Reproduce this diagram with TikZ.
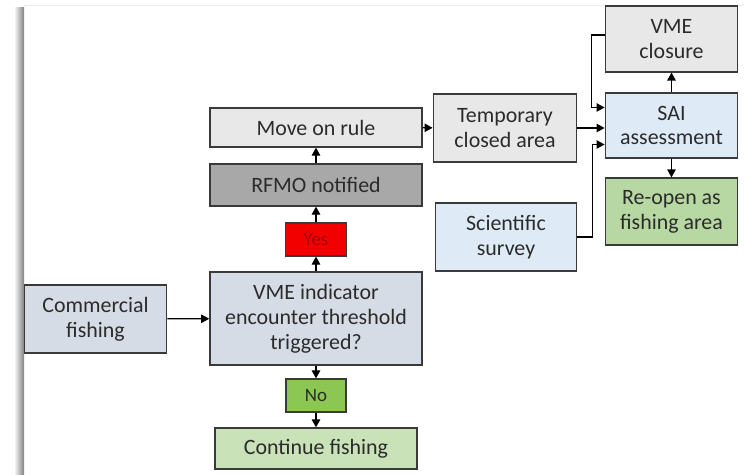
\documentclass[tikz,border=0pt]{standalone}
\usepackage{fontspec}
\setmainfont{Carlito}
\usetikzlibrary{arrows.meta}
\definecolor{boxline}{HTML}{3A3A3A}
\definecolor{txt}{HTML}{2B2B2B}
\definecolor{bluegray}{HTML}{D6DCE5}
\definecolor{litegray}{HTML}{E8E8E8}
\definecolor{darkgray}{HTML}{A8A8A8}
\definecolor{liteblue}{HTML}{DEEBF7}
\definecolor{litegreen}{HTML}{C9E2B8}
\definecolor{midgreen}{HTML}{B8D8A3}
\definecolor{nogreen}{HTML}{8CC653}
\definecolor{yesred}{HTML}{F20000}
\definecolor{yestxt}{HTML}{A00000}
\begin{document}
\begin{tikzpicture}[x=1bp,y=-1bp,
  box/.style={draw=boxline, line width=1.4bp, align=center, inner sep=0pt,
    text=txt, font=\fontsize{22}{25}\selectfont},
  tag/.style={box, font=\fontsize{19}{22}\selectfont},
  arr/.style={-{Triangle[length=8bp,width=8.5bp]}, line width=1.2bp}]
\useasboundingbox (0,0) rectangle (744,475);
% page edge with its shadow
\shade[left color=white, right color=black!50] (14,8) rectangle (24,475);
\draw[black!8] (24,5) -- (744,5);
\node[box, fill=bluegray, minimum width=143, minimum height=68] (comm) at (95.5,319) {Commercial\\fishing};
\node[box, fill=bluegray, minimum width=213, minimum height=93] (ind) at (316,318.5) {VME indicator\\encounter threshold\\triggered?};
\node[tag, fill=yesred, text=yestxt, minimum width=61, minimum height=33] (yes) at (316,239.5) {Yes};
\node[box, fill=darkgray, minimum width=213, minimum height=42] (rfmo) at (316,185) {RFMO notified};
\node[box, fill=litegray, minimum width=213, minimum height=39] (move) at (316,127.5) {Move on rule};
\node[box, fill=litegray, minimum width=144, minimum height=68] (temp) at (505,128) {Temporary\\closed area};
\node[box, fill=liteblue, minimum width=142, minimum height=68] (sci) at (506,237) {Scientific\\survey};
\node[box, fill=litegray, minimum width=133, minimum height=66] (closure) at (671.5,39) {VME\\closure};
\node[box, fill=liteblue, minimum width=133, minimum height=65] (sai) at (671.5,125.5) {SAI\\assessment};
\node[box, fill=midgreen, minimum width=133, minimum height=67] (reopen) at (671.5,211.5) {Re-open as\\fishing area};
\node[tag, fill=nogreen, minimum width=60, minimum height=33] (no) at (316,395.5) {No};
\node[box, fill=litegreen, minimum width=203, minimum height=41] (cont) at (316,448.5) {Continue fishing};
\draw[arr] (comm) -- (ind);
\draw[arr] (ind) -- (yes);
\draw[arr] (yes) -- (rfmo);
\draw[arr] (rfmo) -- (move);
\draw[arr] (move) -- (temp);
\draw[arr] (temp.east) -- (sai.west |- temp.east);
\draw[arr] (sai) -- (closure);
\draw[arr] (sai) -- (reopen);
\draw[arr] ([yshift=4bp]closure.west) -| ++(-13,0) |- ([yshift=18bp]sai.west);
\draw[arr] (sci.east) -| ++(15,0) |- ([yshift=-19bp]sai.west);
\draw[arr] (ind) -- (no);
\draw[arr] (no) -- (cont);
\end{tikzpicture}
\end{document}
